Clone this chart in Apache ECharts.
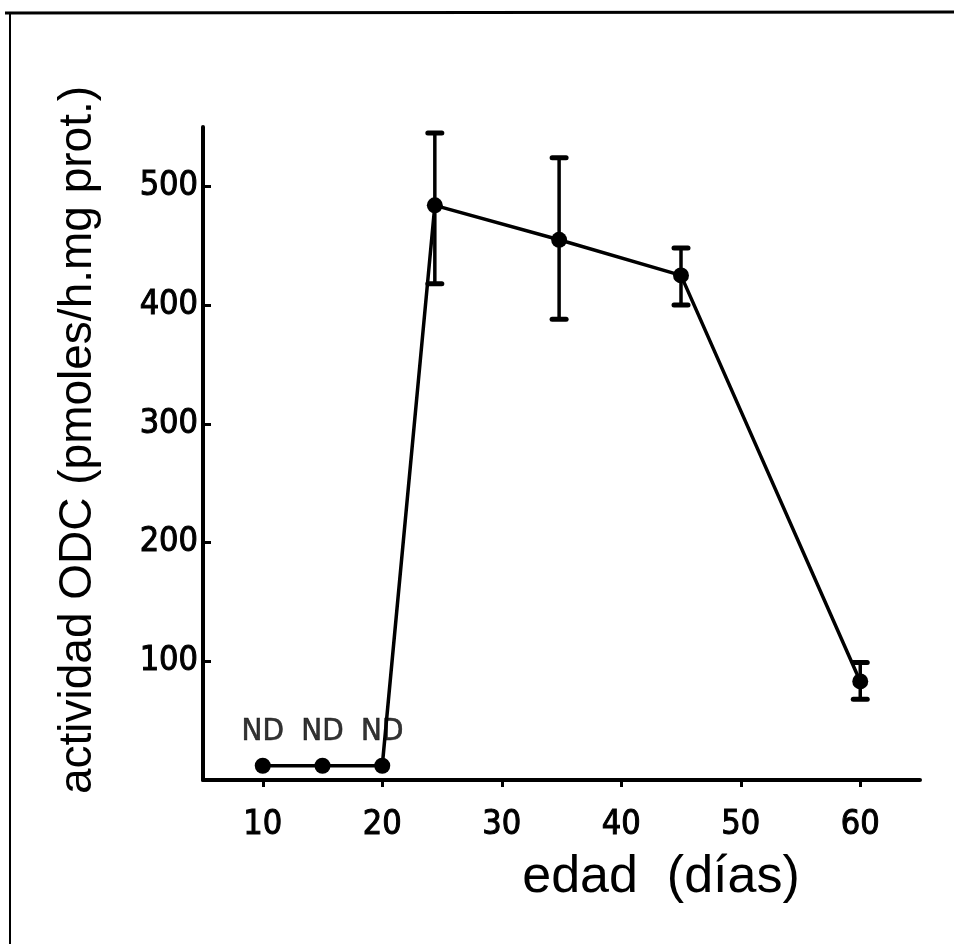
<!DOCTYPE html>
<html><head><meta charset="utf-8">
<script src="https://cdn.jsdelivr.net/npm/echarts@6/dist/echarts.min.js"></script>
<style>html,body{margin:0;padding:0;background:#fff}#c{width:954px;height:944px}</style>
</head><body><div id="c"></div>
<script>
// Data
const ages = [10, 15, 20, 24.4, 34.8, 45, 60];
const activity = [12, 12, 12, 484, 455, 425, 83];
const errLow = [null, null, null, 418, 388, 400, 68];
const errHigh = [null, null, null, 545, 524, 448, 99];
const ndLabels = ['ND', 'ND', 'ND', '', '', '', ''];
const xTicks = [10, 20, 30, 40, 50, 60];
const yTicks = [100, 200, 300, 400, 500];
const xName = 'edad  (días)';
const yName = 'actividad ODC (pmoles/h.mg prot.)';

const tickFont = "'DejaVu Sans Condensed','Liberation Sans Narrow',sans-serif";
const nameFont = "'Liberation Sans',sans-serif";
const chart = echarts.init(document.getElementById('c'), null, {renderer: 'canvas'});

const lineData = ages.map((a, i) => [a, activity[i]]);
const errData = ages.map((a, i) => [a, errLow[i], errHigh[i]]).filter(d => d[1] != null);
const ndData = ages.map((a, i) => [a, activity[i], ndLabels[i]]).filter(d => d[2]);

chart.setOption({
  animation: false,
  backgroundColor: '#fff',
  grid: {left: 203, right: 34, top: 127, bottom: 164, containLabel: false},
  xAxis: {
    type: 'value', min: 5, max: 65,
    axisLine: {show: true, onZero: false, lineStyle: {color: '#000', width: 4}},
    axisTick: {show: true, inside: false, length: 7, lineStyle: {color: '#000', width: 3}, customValues: xTicks},
    axisLabel: {show: true, margin: 28, color: '#000', fontSize: 34, fontFamily: tickFont, textBorderColor: '#000', textBorderWidth: 1, customValues: xTicks},
    splitLine: {show: false}
  },
  yAxis: {
    type: 'value', min: 0, max: 550,
    axisLine: {show: true, lineStyle: {color: '#000', width: 4}},
    axisTick: {show: true, inside: true, length: 8, lineStyle: {color: '#000', width: 3}, customValues: yTicks},
    axisLabel: {show: true, margin: 5, color: '#000', fontSize: 34, fontFamily: tickFont, textBorderColor: '#000', textBorderWidth: 1, customValues: yTicks},
    splitLine: {show: false}
  },
  graphic: [
    {type: 'line', shape: {x1: 5, y1: 13, x2: 954, y2: 12}, style: {stroke: '#000', lineWidth: 3}},
    {type: 'line', shape: {x1: 10, y1: 14, x2: 10, y2: 944}, style: {stroke: '#000', lineWidth: 2}},
    {type: 'text', x: 661, y: 878, style: {text: xName, fill: '#000', font: "52px " + nameFont, textAlign: 'center', textVerticalAlign: 'middle'}},
    {type: 'text', x: 78, y: 440, rotation: Math.PI / 2, style: {text: yName, fill: '#000', font: "46px " + nameFont, textAlign: 'center', textVerticalAlign: 'middle'}}
  ],
  series: [
    {
      type: 'custom',
      data: errData,
      z: 3,
      renderItem: function (params, api) {
        const x = api.value(0);
        const lo = api.coord([x, api.value(1)]);
        const hi = api.coord([x, api.value(2)]);
        const cw = 7;
        return {type: 'group', children: [
          {type: 'line', shape: {x1: lo[0], y1: lo[1], x2: hi[0], y2: hi[1]}, style: {stroke: '#000', lineWidth: 3.5}},
          {type: 'line', shape: {x1: lo[0] - cw, y1: lo[1], x2: lo[0] + cw, y2: lo[1]}, style: {stroke: '#000', lineWidth: 5, lineCap: 'round'}},
          {type: 'line', shape: {x1: hi[0] - cw, y1: hi[1], x2: hi[0] + cw, y2: hi[1]}, style: {stroke: '#000', lineWidth: 5, lineCap: 'round'}}
        ]};
      }
    },
    {
      type: 'line',
      data: lineData,
      z: 4,
      symbol: 'circle', symbolSize: 16,
      itemStyle: {color: '#000'},
      lineStyle: {color: '#000', width: 3.5}
    },
    {
      type: 'scatter',
      data: ndData,
      z: 5,
      symbolSize: 0,
      label: {show: true, position: 'top', distance: 18, formatter: p => p.value[2], color: '#000', fontSize: 31, fontFamily: tickFont, textBorderColor: '#000', textBorderWidth: 0.6}
    }
  ]
});
</script>
</body></html>
